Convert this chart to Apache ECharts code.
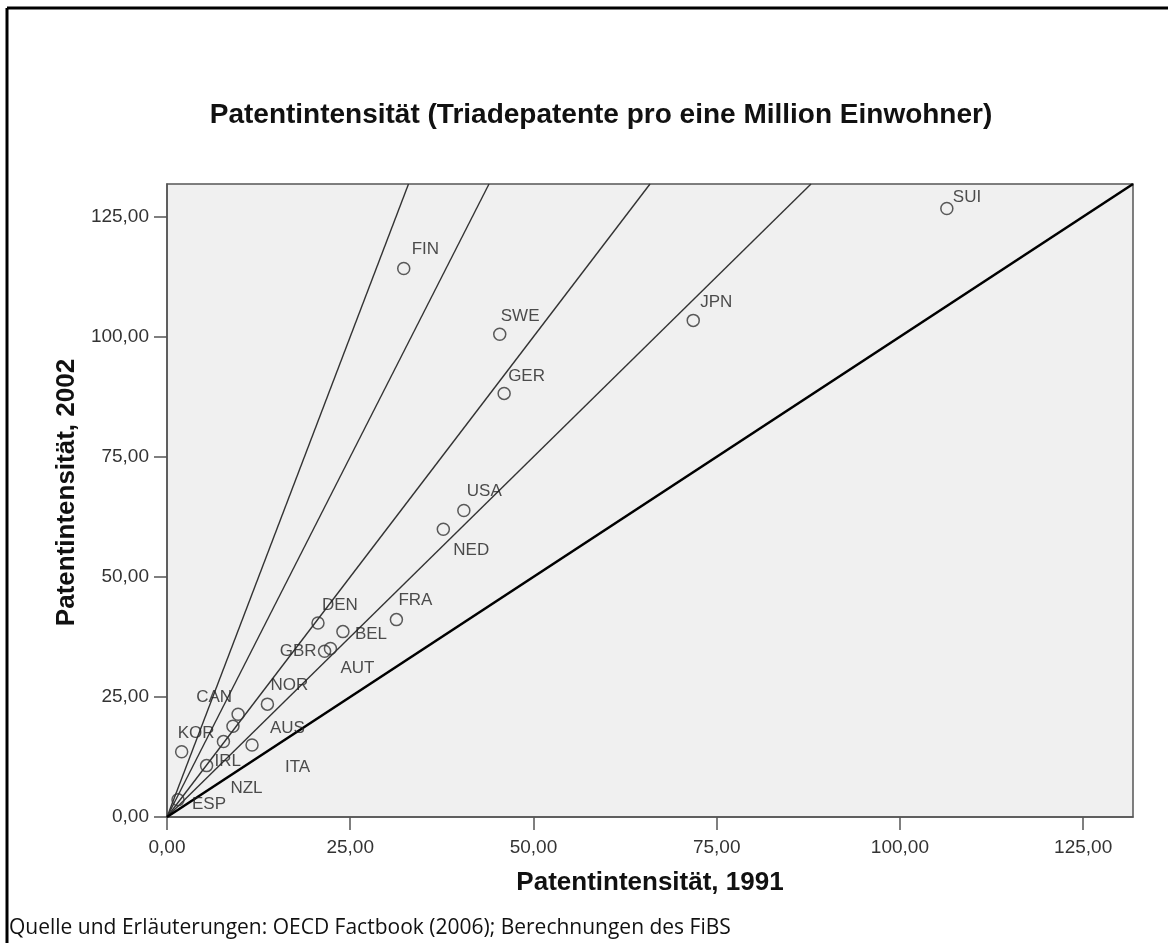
<!DOCTYPE html>
<html>
<head>
<meta charset="utf-8">
<script src="https://cdn.jsdelivr.net/npm/echarts@6/dist/echarts.min.js"></script>
<style>
  html, body { margin: 0; padding: 0; background: #fff; }
  #chart { width: 1168px; height: 943px; }
</style>
</head>
<body>
<div id="chart"></div>
<script>
// Ländercodes und Patentintensität 1991 / 2002
const countries = ['SUI', 'FIN', 'SWE', 'GER', 'JPN', 'USA', 'NED', 'FRA', 'DEN', 'BEL', 'GBR', 'AUT', 'NOR', 'CAN', 'AUS', 'NZL', 'ITA', 'KOR', 'IRL', 'ESP']
const pat1991 = [106.4, 32.3, 45.4, 46.0, 71.8, 40.5, 37.7, 31.3, 20.6, 24.0, 21.5, 22.3, 13.7, 9.7, 9.0, 7.7, 11.6, 2.0, 5.4, 1.5]
const pat2002 = [126.7, 114.2, 100.5, 88.2, 103.4, 63.8, 59.9, 41.1, 40.4, 38.6, 34.5, 35.1, 23.5, 21.4, 18.9, 15.7, 15.0, 13.6, 10.7, 3.6]

// Steigungen der Hilfslinien durch den Ursprung (2002 = k * 1991)
const slopes = [4, 3, 2, 1.5]
const diagonal = 1

const axisMax = 131.8
const ticks = [0, 25, 50, 75, 100, 125]

// Beschriftungsversatz relativ zum Kreismittelpunkt [dx, dy, Ausrichtung]
const labelOffsets = {
  SUI: [6, -11, 'left'], FIN: [8, -19, 'left'], SWE: [1, -18, 'left'], GER: [4, -17, 'left'],
  JPN: [7, -18, 'left'], USA: [3, -19, 'left'], NED: [10, 21, 'left'], FRA: [2, -19, 'left'],
  DEN: [4, -18, 'left'], BEL: [12, 3, 'left'], GBR: [-8, 0, 'right'], AUT: [10, 20, 'left'],
  NOR: [3, -19, 'left'], CAN: [-6, -17, 'right'], AUS: [37, 2, 'left'], NZL: [7, 47, 'left'],
  ITA: [33, 22, 'left'], KOR: [-4, -18, 'left'], IRL: [8, -4, 'left'], ESP: [14, 5, 'left'],
}

const fmt = v => v.toFixed(2).replace('.', ',')

const points = countries.map((c, i) => {
  const o = labelOffsets[c]
  return {
    name: c,
    value: [pat1991[i], pat2002[i]],
    label: { offset: [o[0], o[1]], align: o[2] },
  }
})

const refLine = k => ({
  type: 'line',
  data: [[0, 0], [axisMax / k, axisMax]],
  symbol: 'none',
  silent: true,
  animation: false,
  lineStyle: { color: k === diagonal ? '#000' : '#333', width: k === diagonal ? 2.6 : 1.4 },
  z: 2,
})

const chart = echarts.init(document.getElementById('chart'))
chart.setOption({
  backgroundColor: '#fff',
  animation: false,
  title: {
    text: 'Patentintensität (Triadepatente pro eine Million Einwohner)',
    left: 596,
    textAlign: 'center',
    top: 96,
    textStyle: { fontFamily: 'Liberation Sans', fontSize: 28, fontWeight: 'bold', color: '#111' },
  },
  graphic: [
    { type: 'line', shape: { x1: 7, y1: 8, x2: 1168, y2: 8 }, style: { stroke: '#000', lineWidth: 3 } },
    { type: 'line', shape: { x1: 7, y1: 8, x2: 7, y2: 943 }, style: { stroke: '#000', lineWidth: 3 } },
    {
      type: 'text', left: 9, top: 918,
      style: { text: 'Quelle und Erläuterungen: OECD Factbook (2006); Berechnungen des FiBS', fontFamily: 'Open Sans', fontSize: 21, fill: '#111' },
    },
  ],
  grid: { left: 167, top: 184, width: 966, height: 633, show: true, backgroundColor: '#f0f0f0', borderColor: '#555', borderWidth: 1.5 },
  xAxis: {
    type: 'value', min: 0, max: axisMax, interval: 25,
    name: 'Patentintensität, 1991', nameLocation: 'middle', nameGap: 53,
    nameTextStyle: { fontFamily: 'Liberation Sans', fontSize: 26, fontWeight: 'bold', color: '#111' },
    axisLine: { show: true, onZero: false, lineStyle: { color: '#555', width: 1.5 } },
    axisTick: { show: true, length: 13, lineStyle: { color: '#555', width: 1.5 }, customValues: ticks },
    axisLabel: { margin: 21, fontFamily: 'Liberation Sans', fontSize: 19, color: '#333', formatter: fmt, customValues: ticks },
    splitLine: { show: false },
  },
  yAxis: {
    type: 'value', min: 0, max: axisMax, interval: 25,
    name: 'Patentintensität, 2002', nameLocation: 'middle', nameGap: 79,
    nameTextStyle: { fontFamily: 'Liberation Sans', fontSize: 26, fontWeight: 'bold', color: '#111', padding: [0, 0, 0, 16] },
    axisLine: { show: true, onZero: false, lineStyle: { color: '#555', width: 1.5 } },
    axisTick: { show: true, length: 13, lineStyle: { color: '#555', width: 1.5 }, customValues: ticks },
    axisLabel: { margin: 18, fontFamily: 'Liberation Sans', fontSize: 19, color: '#333', formatter: fmt, customValues: ticks },
    splitLine: { show: false },
  },
  series: [
    ...slopes.map(refLine),
    refLine(diagonal),
    {
      type: 'scatter',
      data: points,
      symbol: 'circle',
      symbolSize: 12,
      itemStyle: { color: 'rgba(0,0,0,0)', borderColor: '#333', borderWidth: 1.5 },
      label: {
        show: true, position: 'inside', verticalAlign: 'middle',
        formatter: p => p.name,
        fontFamily: 'Liberation Sans', fontSize: 17, color: '#222',
      },
      z: 3,
    },
  ],
})
</script>
</body>
</html>
